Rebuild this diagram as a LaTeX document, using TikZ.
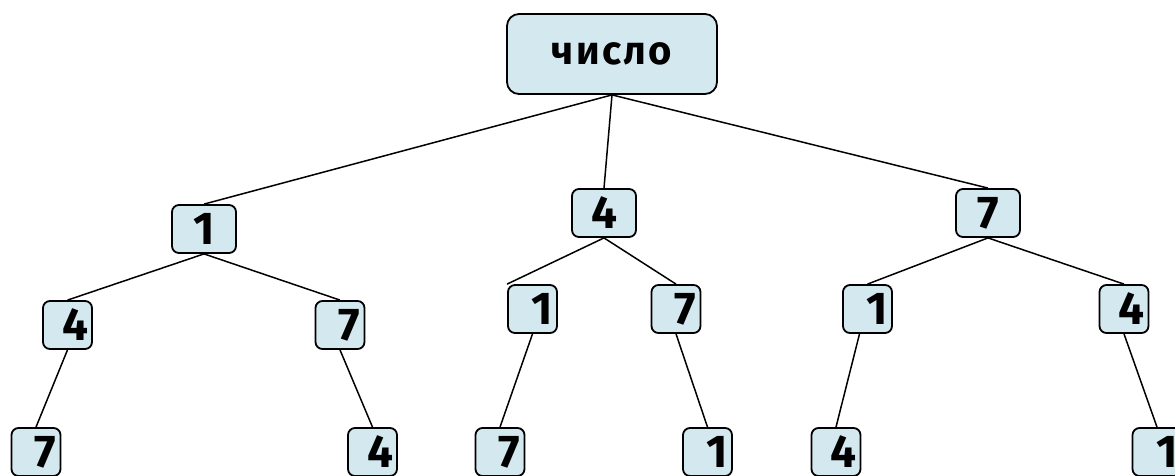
\documentclass[tikz,border=0pt]{standalone}
\usepackage{fontspec}
\setmainfont{Fira Sans}
\definecolor{boxblue}{RGB}{211,232,239}

\begin{document}
\begin{tikzpicture}[x=1pt,y=-1pt,
  box/.style={draw=black,line width=1.8pt,fill=boxblue,rounded corners=7pt,inner sep=0pt,minimum height=48pt,font=\bfseries\fontsize{46}{46}\selectfont},
  mid/.style={box,minimum width=64pt},
  leaf/.style={box,minimum width=49pt,text width=41pt,align=right},
  edge/.style={black,line width=1.5pt}]

  \useasboundingbox (0,0) rectangle (1175,475);
  \clip (0,0) rectangle (1175,475);

  \node[box,minimum width=210pt,minimum height=80pt,rounded corners=12pt,font=\bfseries\fontsize{40}{40}\selectfont\addfontfeature{LetterSpace=6}] (r) at (612,54){число};

  \node[mid] (a) at (204,229){1};
  \node[mid] (b) at (604,213){4};
  \node[mid] (c) at (988,213){7};

  \node[leaf] (a1) at (67.5,325){4};
  \node[leaf] (a2) at (340,325){7};
  \node[leaf] (b1) at (532.5,309){1};
  \node[leaf] (b2) at (676,309){7};
  \node[leaf] (c1) at (867.5,309){1};
  \node[leaf] (c2) at (1124,309){4};

  \node[leaf] (a11) at (36,452){7};
  \node[leaf] (a22) at (372.5,452){4};
  \node[leaf] (b11) at (500,452){7};
  \node[leaf] (b22) at (707.5,452){1};
  \node[leaf] (c11) at (836,452){4};
  \node[leaf] (c22) at (1157,452){1};

  \draw[edge] (r.south)--(a.north) (r.south)--(b.north) (r.south)--(c.north);
  \draw[edge] (a.south)--(a1.north) (a.south)--(a2.north) (b.south)--(b1.north west) (b.south)--(b2.north) (c.south)--(c1.north) (c.south)--(c2.north);
  \draw[edge] (a1.south)--(a11.north) (a2.south)--(a22.north) (b1.south)--(b11.north) (b2.south)--(b22.north) ([xshift=-8pt]c1.south)--(c11.north) (c2.south)--(c22.north);

\end{tikzpicture}
\end{document}
